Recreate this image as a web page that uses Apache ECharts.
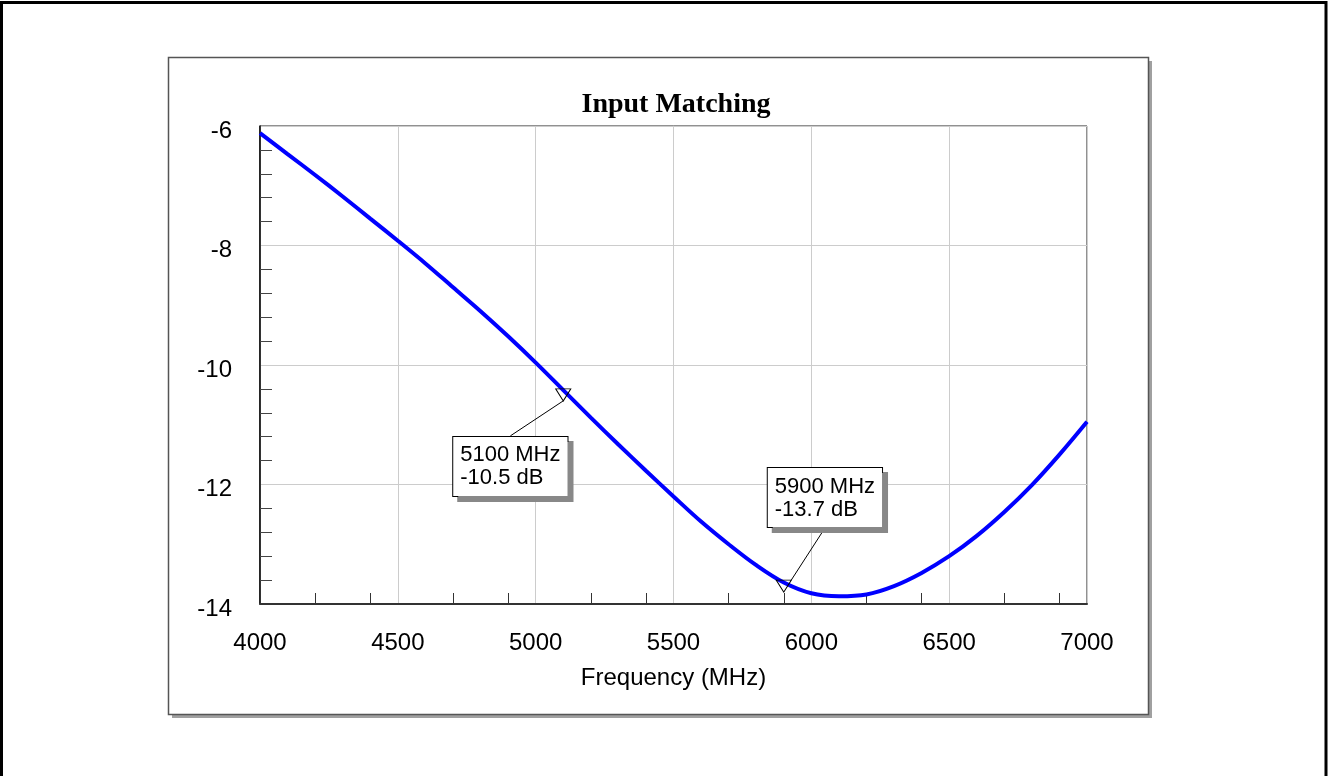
<!DOCTYPE html>
<html>
<head>
<meta charset="utf-8">
<title>Input Matching</title>
<script src="https://cdn.jsdelivr.net/npm/echarts@6.0.0/dist/echarts.min.js"></script>
<style>
  html, body { margin: 0; padding: 0; background: #fff; }
  #main { width: 1328px; height: 776px; }
</style>
</head>
<body>
<div id="main"></div>
<script>
// measured sweep, frequency in MHz and S11 in dB
const freqMHz = [4000, 4100, 4200, 4300, 4400, 4500, 4600, 4700, 4800, 4900,
                 5000, 5100, 5200, 5300, 5400, 5500, 5600, 5700, 5800, 5900,
                 6000, 6100, 6200, 6300, 6400, 6500, 6600, 6700, 6800, 6900, 7000];
const s11dB = [-6.12, -6.47, -6.82, -7.18, -7.55, -7.92, -8.30, -8.70, -9.10, -9.52,
               -9.96, -10.42, -10.88, -11.33, -11.77, -12.20, -12.62, -13.00, -13.35, -13.64,
               -13.82, -13.87, -13.84, -13.70, -13.48, -13.20, -12.86, -12.46, -12.01, -11.50, -10.95];

// little ticks inside the frame (no tick where a grid line is)
const xMinorTicks = [4200, 4400, 4700, 4900, 5200, 5400, 5700, 5900, 6200, 6400, 6700, 6900];
const yMinorTicks = [-13.6, -13.2, -12.8, -12.4, -11.6, -11.2, -10.8, -10.4,
                     -9.6, -9.2, -8.8, -8.4, -7.6, -7.2, -6.8, -6.4];

// markers with their callout text
const markerFreq = [5100, 5900];
const markerDb = [-10.5, -13.7];
const markerText = ['5100 MHz\n-10.5 dB', '5900 MHz\n-13.7 dB'];

// where each callout box sits relative to its marker (px)
const callouts = [
  { dx: -110, dy: 42, lineX: 59, atBottom: false },
  { dx: -16, dy: -118, lineX: 53, atBottom: true }
];

const chart = echarts.init(document.getElementById('main'));

const sans = 'Liberation Sans, Arial, sans-serif';
const xRange = { min: 4000, max: 7000 };
const yRange = { min: -14, max: -6 };

chart.setOption({
  animation: false,
  graphic: [
    // page frame (top, left, right)
    { type: 'polyline', silent: true, z: -20,
      shape: { points: [[1.5, 776], [1.5, 2.5], [1326, 2.5], [1326, 776]] },
      style: { stroke: '#000', lineWidth: 3, fill: null } },
    // panel shadow + panel
    { type: 'rect', silent: true, z: -20,
      shape: { x: 172, y: 61, width: 980, height: 657 },
      style: { fill: '#a0a0a0' } },
    { type: 'rect', silent: true, z: -19,
      shape: { x: 168.5, y: 57.5, width: 980, height: 657 },
      style: { fill: '#fff', stroke: '#555', lineWidth: 1.5 } },
    { type: 'text', silent: true, z: 5,
      x: 676, y: 105,
      style: { text: 'Input Matching', align: 'center', verticalAlign: 'middle',
               font: 'bold 28px "Liberation Serif", "Times New Roman", serif', fill: '#000' } }
  ],
  grid: {
    left: 260, top: 126, width: 827, height: 478,
    show: true, borderColor: '#222', borderWidth: 1, backgroundColor: 'transparent'
  },
  xAxis: [
    {
      type: 'value', ...xRange, interval: 500,
      name: 'Frequency (MHz)',
      nameLocation: 'middle',
      nameGap: 62,
      nameTextStyle: { fontFamily: sans, fontSize: 24, color: '#000' },
      axisLine: { show: true, onZero: false, lineStyle: { color: '#333', width: 2 } },
      axisTick: { show: false },
      axisLabel: { fontFamily: sans, fontSize: 24, color: '#000', margin: 27,
                   formatter: v => String(v) },
      splitLine: { show: true, lineStyle: { color: '#cccccc', width: 1 } }
    },
    {
      // tick-only axis
      type: 'value', ...xRange, position: 'bottom',
      axisLine: { show: false },
      axisTick: { show: true, inside: true, length: 11, customValues: xMinorTicks,
                  lineStyle: { color: '#333', width: 1 } },
      axisLabel: { show: false },
      splitLine: { show: false }
    }
  ],
  yAxis: [
    {
      type: 'value', ...yRange, interval: 2,
      axisLine: { show: true, onZero: false, lineStyle: { color: '#000', width: 1.5 } },
      axisTick: { show: false },
      axisLabel: { fontFamily: sans, fontSize: 24, color: '#000', margin: 28,
                   verticalAlign: 'top', lineHeight: 10 },
      splitLine: { show: true, lineStyle: { color: '#cccccc', width: 1 } }
    },
    {
      type: 'value', ...yRange, position: 'left',
      axisLine: { show: false },
      axisTick: { show: true, inside: true, length: 12, customValues: yMinorTicks,
                  lineStyle: { color: '#444', width: 1 } },
      axisLabel: { show: false },
      splitLine: { show: false }
    }
  ],
  series: [
    {
      type: 'line',
      data: freqMHz.map((f, i) => [f, s11dB[i]]),
      smooth: 0.35,
      showSymbol: false,
      lineStyle: { color: '#0000ff', width: 4 },
      z: 3
    },
    {
      type: 'scatter',
      data: markerFreq.map((f, i) => [f, markerDb[i]]),
      symbol: 'triangle',
      symbolSize: [15, 12],
      symbolRotate: 180,
      itemStyle: { color: 'rgba(0,0,0,0)', borderColor: '#000', borderWidth: 1, opacity: 1 },
      z: 4,
      label: {
        show: true,
        position: 'inside',
        formatter: p => markerText[p.dataIndex],
        fontFamily: sans, fontSize: 22, lineHeight: 23, color: '#000',
        align: 'left',
        backgroundColor: '#fff',
        borderColor: '#000', borderWidth: 1,
        padding: [7, 7, 6, 7],
        shadowColor: '#888', shadowBlur: 0, shadowOffsetX: 5, shadowOffsetY: 5
      },
      labelLine: { show: true, lineStyle: { color: '#000', width: 1 } },
      labelLayout: function (p) {
        const c = callouts[p.dataIndex];
        const cx = p.rect.x + p.rect.width / 2;
        const cy = p.rect.y + p.rect.height / 2;
        const bx = cx + c.dx;
        const by = cy + c.dy;
        const ey = c.atBottom ? by + p.labelRect.height : by;
        return {
          x: bx, y: by, align: 'left', verticalAlign: 'top',
          labelLinePoints: [[cx, cy], [bx + c.lineX, ey]]
        };
      }
    }
  ]
});
</script>
</body>
</html>
